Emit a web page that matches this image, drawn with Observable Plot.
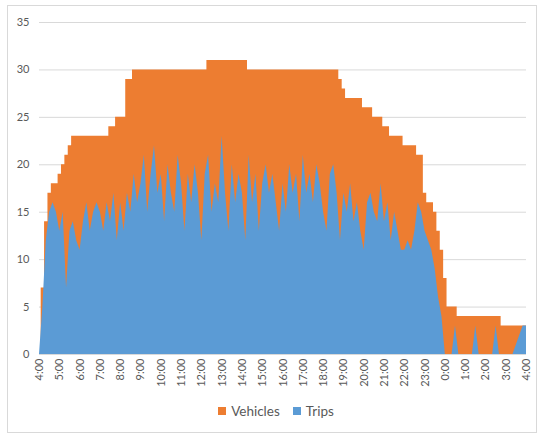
<!DOCTYPE html>
<html>
<head>
<meta charset="utf-8">
<script src="https://cdn.jsdelivr.net/npm/d3@7"></script>
<script src="https://cdn.jsdelivr.net/npm/@observablehq/plot@0.6"></script>
<style>
  html, body { margin: 0; padding: 0; background: #fff; }
  #chart { position: relative; width: 538px; height: 435px; overflow: hidden; font-family: Lato, "Liberation Sans", sans-serif; }
  #frame { position: absolute; left: 7px; top: 5px; width: 530px; height: 428px; border: 1px solid #d9d9d9; box-sizing: border-box; }
  #plot { position: absolute; left: 0; top: 0; }
  #legend { position: absolute; top: 403px; left: 0; width: 552px; display: flex; justify-content: center; gap: 13px; font-size: 13.5px; color: #595959; }
  .item { display: flex; align-items: center; gap: 5px; }
  .sw { width: 8px; height: 8px; }
</style>
</head>
<body>
<div id="chart">
  <div id="frame"></div>
  <div id="plot"></div>
  <div id="legend"></div>
</div>
<script>
// Hour labels along the x axis (one service day, 4:00 to 4:00)
const hourLabels = ["4:00","5:00","6:00","7:00","8:00","9:00","10:00","11:00","12:00","13:00",
  "14:00","15:00","16:00","17:00","18:00","19:00","20:00","21:00","22:00","23:00",
  "0:00","1:00","2:00","3:00","4:00"];

// Sampling interval of the series, in minutes
const stepMinutes = 10;

// Vehicles in service, every 10 minutes from 4:00
const vehicles = [
  0, 7, 14, 17, 18, 18,        // 4:00
  19, 20, 21, 22, 23, 23,      // 5:00
  23, 23, 23, 23, 23, 23,      // 6:00
  23, 23, 23, 24, 24, 25,      // 7:00
  25, 25, 29, 29, 30, 30,      // 8:00
  30, 30, 30, 30, 30, 30,      // 9:00
  30, 30, 30, 30, 30, 30,      // 10:00
  30, 30, 30, 30, 30, 30,      // 11:00
  30, 30, 31, 31, 31, 31,      // 12:00
  31, 31, 31, 31, 31, 31,      // 13:00
  31, 31, 30, 30, 30, 30,      // 14:00
  30, 30, 30, 30, 30, 30,      // 15:00
  30, 30, 30, 30, 30, 30,      // 16:00
  30, 30, 30, 30, 30, 30,      // 17:00
  30, 30, 30, 30, 30, 29,      // 18:00
  28, 27, 27, 27, 27, 27,      // 19:00
  26, 26, 26, 25, 25, 25,      // 20:00
  24, 24, 23, 23, 23, 23,      // 21:00
  22, 22, 22, 22, 21, 21,      // 22:00
  17, 16, 16, 15, 13, 11,      // 23:00
  8, 5, 5, 5, 4, 4,            // 0:00
  4, 4, 4, 4, 4, 4,            // 1:00
  4, 4, 4, 4, 4, 3,            // 2:00
  3, 3, 3, 3, 3, 3,            // 3:00
  3                            // 4:00
];

// Trips under way, same 10-minute grid
const trips = [
  0, 5, 12, 15, 16, 15,        // 4:00
  13, 15, 7, 13, 14, 12,       // 5:00
  11, 14, 16, 13, 15, 16,      // 6:00
  15, 13, 16, 14, 17, 12,      // 7:00
  16, 13, 17, 15, 19, 16,      // 8:00
  18, 21, 15, 19, 22, 17,      // 9:00
  19, 14, 20, 17, 15, 21,      // 10:00
  18, 13, 19, 16, 20, 17,      // 11:00
  12, 19, 21, 15, 18, 16,      // 12:00
  23, 17, 13, 20, 16, 19,      // 13:00
  17, 12, 21, 16, 19, 13,      // 14:00
  18, 20, 17, 19, 16, 13,      // 15:00
  18, 15, 20, 17, 19, 14,      // 16:00
  21, 17, 19, 16, 20, 18,      // 17:00
  15, 13, 19, 20, 17, 12,      // 18:00
  17, 15, 18, 14, 16, 13,      // 19:00
  11, 16, 17, 15, 14, 18,      // 20:00
  14, 16, 12, 15, 13, 11,      // 21:00
  11, 12, 11, 13, 16, 15,      // 22:00
  13, 12, 11, 9, 6, 4,         // 23:00
  0, 0, 0, 3, 0, 0,            // 0:00
  0, 0, 0, 3, 0, 0,            // 1:00
  0, 0, 0, 3, 0, 0,            // 2:00
  0, 0, 0, 1, 2, 3,            // 3:00
  3                            // 4:00
];

const yTicks = [0, 5, 10, 15, 20, 25, 30, 35];

const seriesNames = ["Vehicles", "Trips"];
const seriesColors = ["#ED7D31", "#5B9BD5"];

const rows = trips.map((t, i) => ({minute: i * stepMinutes, trips: t, vehicles: vehicles[i]}));
const hourTicks = hourLabels.map((_, i) => i * 60);

const chart = Plot.plot({
  width: 538,
  height: 400,
  marginLeft: 39,
  marginRight: 12,
  marginTop: 22,
  marginBottom: 46,
  style: {fontFamily: "Lato, 'Liberation Sans', sans-serif", fontSize: "11px", color: "#595959", background: "transparent", overflow: "visible"},
  x: {
    domain: [0, hourTicks[hourTicks.length - 1]],
    ticks: hourTicks,
    tickFormat: d => hourLabels[Math.round(d / 60)],
    tickRotate: -90,
    tickSize: 0,
    tickPadding: 4,
    label: null
  },
  y: {
    domain: [0, 35],
    ticks: yTicks,
    tickSize: 0,
    tickPadding: 10,
    label: null
  },
  marks: [
    Plot.ruleY(yTicks, {stroke: "#d9d9d9", strokeWidth: 1}),
    // vehicle counts change in whole steps, so hold each value around its sample
    Plot.areaY(rows, {x: "minute", y1: 0, y2: "vehicles", fill: seriesColors[0], curve: "step"}),
    Plot.areaY(rows, {x: "minute", y1: 0, y2: "trips", fill: seriesColors[1]}),
    Plot.ruleY([0], {stroke: "#d9d9d9", strokeWidth: 1.2})
  ]
});
document.getElementById("plot").appendChild(chart);

// Legend beneath the plot
const legend = document.getElementById("legend");
seriesNames.forEach((name, i) => {
  const item = document.createElement("div");
  item.className = "item";
  const sw = document.createElement("span");
  sw.className = "sw";
  sw.style.background = seriesColors[i];
  const label = document.createElement("span");
  label.textContent = name;
  item.appendChild(sw);
  item.appendChild(label);
  legend.appendChild(item);
});
</script>
</body>
</html>
